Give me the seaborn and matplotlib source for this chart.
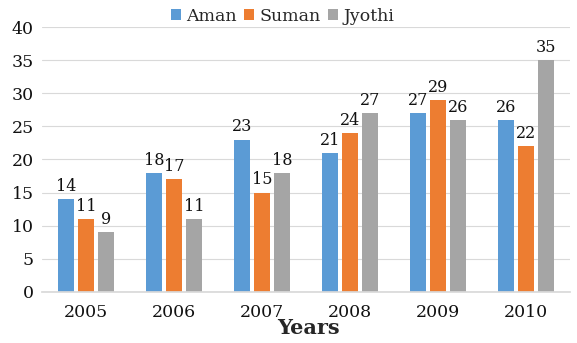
import matplotlib
matplotlib.use("Agg")
import matplotlib.pyplot as plt
import seaborn as sns
import pandas as pd

years = ["2005", "2006", "2007", "2008", "2009", "2010"]
aman = [14, 18, 23, 21, 27, 26]
suman = [11, 17, 15, 24, 29, 22]
jyothi = [9, 11, 18, 27, 26, 35]
series_names = ["Aman", "Suman", "Jyothi"]
colors = ["#5B9BD5", "#ED7D31", "#A5A5A5"]

df = pd.DataFrame({
    "Year": years * 3,
    "Value": aman + suman + jyothi,
    "Series": [s for s in series_names for _ in years],
})

sns.set_theme(style="white")
plt.rcParams["font.family"] = ["DejaVu Serif"]

fig = plt.figure(figsize=(5.77, 3.43), dpi=100)
ax = fig.add_axes([0.073, 0.149, 0.915, 0.772])
sns.barplot(data=df, x="Year", y="Value", hue="Series", palette=colors,
            width=0.68, gap=0.2, ax=ax, saturation=1, linewidth=0)

for cont in ax.containers:
    ax.bar_label(cont, padding=3, fontsize=11.5, color="#111111")

ax.set_ylim(0, 40)
ax.set_xlim(-0.5, 5.5)
ax.set_yticks(range(0, 41, 5))
ax.yaxis.grid(True, color="#D9D9D9", linewidth=0.8)
ax.set_axisbelow(True)
for s in ["top", "right", "left"]:
    ax.spines[s].set_visible(False)
ax.spines["bottom"].set_color("#D9D9D9")
ax.tick_params(axis="both", labelsize=12.5, length=0, colors="#111111")
ax.tick_params(axis="x", pad=9)
ax.tick_params(axis="y", pad=6)
ax.set_ylabel("")
ax.set_xlabel("Years", fontsize=15, fontweight="bold")
ax.xaxis.set_label_coords(0.504, -0.1)

leg = ax.legend(loc="center", bbox_to_anchor=(0.455, 1.04), ncol=3, frameon=False,
                fontsize=12.5, handlelength=0.6, handleheight=0.6, columnspacing=0.4,
                handletextpad=0.3)
fig.savefig("out.png", dpi=100)
